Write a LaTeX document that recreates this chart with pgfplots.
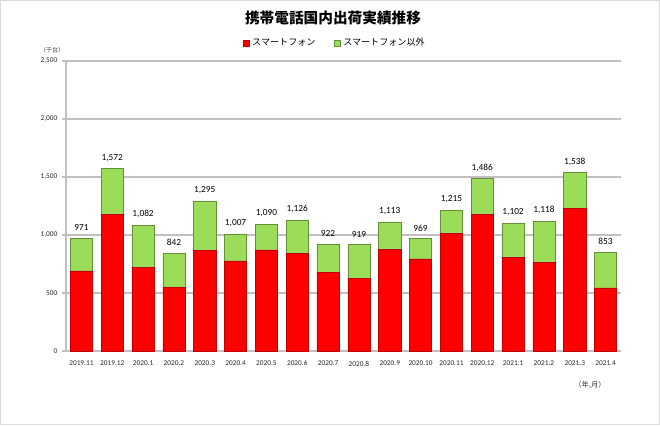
\documentclass[border=0pt]{standalone}
\usepackage{pgfplots}
\usepackage{pgfplotstable}
\pgfplotsset{compat=1.18}
\usepackage{fontspec}
\setmainfont{Carlito}
\newfontfamily\cjk{Noto Sans CJK JP}
\definecolor{redbar}{RGB}{255,0,0}
\definecolor{greenbar}{RGB}{155,220,88}
\definecolor{gridgray}{RGB}{192,192,192}
\pgfplotstableread{
x red green total
0 690 281 971
1 1180 392 1572
2 720 362 1082
3 550 292 842
4 866 429 1295
5 777 230 1007
6 871 219 1090
7 840 286 1126
8 680 242 922
9 628 291 919
10 874 239 1113
11 794 175 969
12 1017 198 1215
13 1180 306 1486
14 806 296 1102
15 763 355 1118
16 1232 306 1538
17 544 309 853
}\data
\begin{document}
\begin{tikzpicture}[x=0.75pt,y=0.75pt]
\useasboundingbox (0,0) rectangle (660,425);
\draw[gray!30, line width=0.75pt] (0.5,0.5) rectangle (659.5,424.5);
\node[font=\cjk\bfseries\fontsize{11}{13}\selectfont] at (333,407) {携帯電話国内出荷実績推移};
\node[font=\cjk\fontsize{4.5}{5}\selectfont, text=black!80] at (52,375) {（千台）};
\node[font=\cjk\fontsize{5.5}{6}\selectfont, text=black!80] at (590,40) {（年,月）};
\begin{axis}[
  at={(49.5pt,55.5pt)}, anchor=south west,
  scale only axis, width=416.25pt, height=217.5pt,
  stack plots=y,
  xmin=-0.5, xmax=17.5, ymin=0, ymax=2500,
  xtick={0,...,17},
  xticklabels={2019.11,2019.12,2020.1,2020.2,2020.3,2020.4,2020.5,2020.6,2020.7,2020.8,2020.9,2020.10,2020.11,2020.12,2021.1,2021.2,2021.3,2021.4},
  ytick={0,500,1000,1500,2000,2500},
  /pgf/number format/.cd, 1000 sep={,}, assume math mode=true, /pgfplots/.cd,
  axis x line*=bottom, axis y line*=left,
  axis line style={gridgray, line width=0.8pt},
  ymajorgrids, major grid style={gridgray, line width=0.8pt},
  x tick label style={font=\fontsize{5.5}{6}\selectfont, text=black!85, yshift=-1pt},
  y tick label style={font=\fontsize{5.5}{6}\selectfont, text=black!85},
  major x tick style={draw=none},
  major y tick style={gridgray, line width=0.8pt},
  tick align=outside, major tick length=3pt,
  legend columns=2,
  legend style={at={(axis description cs:0.485,1)}, anchor=center, yshift=13.5pt, draw=none, fill=none,
    font=\cjk\fontsize{6.8}{8}\selectfont, /tikz/every even column/.append style={column sep=12pt}},
  legend image code/.code={\fill[#1] (0pt,-2.3pt) rectangle (4.6pt,2.3pt);},
]
\addplot[ybar, bar width=0.72, bar shift=0pt, fill=redbar, draw=red!75!black, line width=0.3pt] table[x=x, y=red] {\data};
\addlegendentry{スマートフォン}
\addplot[ybar, bar width=0.72, bar shift=0pt, fill=greenbar, draw=greenbar!65!black, line width=0.3pt] table[x=x, y=green] {\data};
\addlegendentry{スマートフォン以外}
\addplot[forget plot, stack plots=false, sharp plot, draw=none, mark=none,
  point meta=y, nodes near coords,
  every node near coord/.append style={font=\fontsize{7}{8}\selectfont, text=black, anchor=south, yshift=2pt}]
  table[x=x, y=total] {\data};
\end{axis}
\end{tikzpicture}
\end{document}
